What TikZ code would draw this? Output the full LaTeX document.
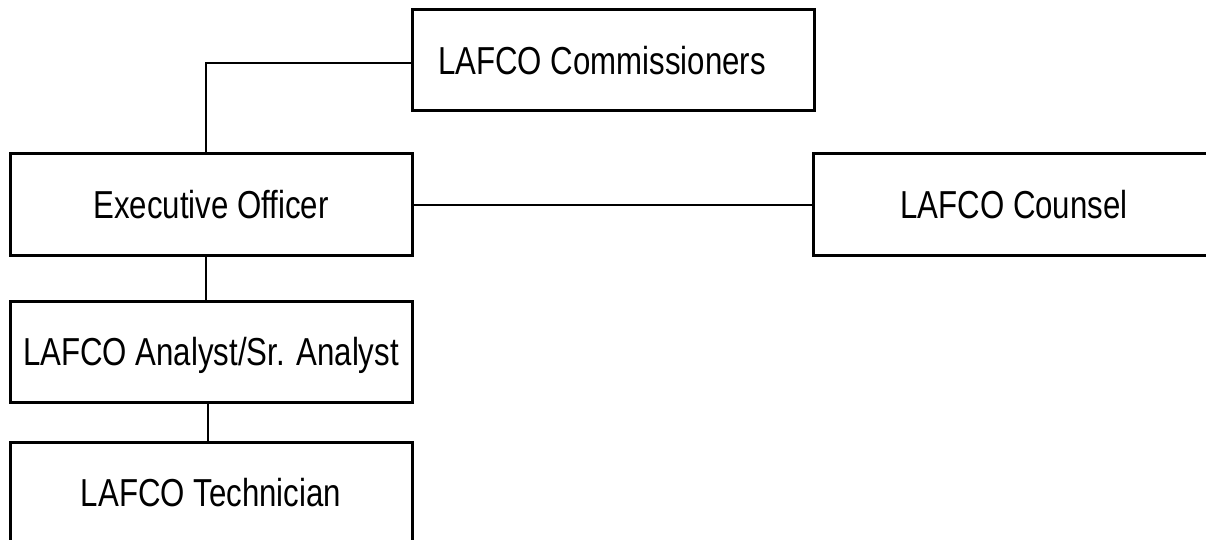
\documentclass[tikz,border=0pt]{standalone}
\usepackage{fontspec}
\setmainfont{Liberation Sans}[FakeStretch=0.8]
\begin{document}
\begin{tikzpicture}[x=1pt,y=-1pt,
  orgbox/.style={draw=black, line width=3pt, minimum width=402pt, minimum height=101pt,
    inner sep=0pt, outer sep=0pt, anchor=north west,
    font=\fontsize{39}{45}\selectfont, text height=28pt, text depth=0pt},
  link/.style={draw=black, line width=2pt}]
\useasboundingbox (0,0) rectangle (1206,540);
\clip (0,0) rectangle (1206,540);
\node[orgbox] (comm) at (412,10) {LAFCO Commissioners\kern 22pt};
\node[orgbox] (exec) at (10,154) {Executive Officer};
\node[orgbox] (counsel) at (813,154) {LAFCO Counsel};
\node[orgbox] (analyst) at (10,301) {LAFCO Analyst/Sr. Analyst};
\node[orgbox] (tech) at (10,442) {LAFCO Technician};
\coordinate (elbow) at (206,63);
\coordinate (tx) at (208,0);
\draw[link] (comm.west |- elbow) -- (elbow) -- (elbow |- exec.north);
\draw[link] (exec.east) -- (counsel.west);
\draw[link] (exec.south -| elbow) -- (analyst.north -| elbow);
\draw[link] (analyst.south -| tx) -- (tech.north -| tx);
\end{tikzpicture}
\end{document}
